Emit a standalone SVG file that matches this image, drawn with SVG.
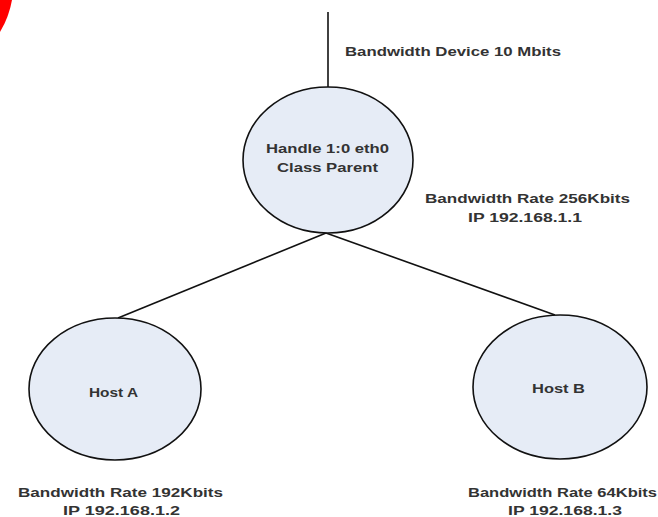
<svg xmlns="http://www.w3.org/2000/svg" width="658" height="517" viewBox="0 0 658 517">
<style>
.n{fill:#e6ecf6;stroke:#111;stroke-width:1.6}
.c{stroke:#111;stroke-width:1.6;fill:none}
text{font-family:"Liberation Sans",Arial,sans-serif;font-size:13px;fill:#333;font-weight:bold}
</style>
<rect width="658" height="517" fill="#fff"/>
<path d="M0,0 L12,0 Q9,17 0,32 Z" fill="#ff0000"/>
<g id="connectors">
<line class="c" x1="328" y1="12" x2="328" y2="88"/>
<line class="c" x1="326" y1="233" x2="118" y2="318"/>
<line class="c" x1="326" y1="233" x2="555" y2="315"/>
</g>
<g id="parent">
<ellipse class="n" cx="328" cy="160" rx="85" ry="73"/>
<text x="266" y="153" textLength="123" lengthAdjust="spacingAndGlyphs">Handle 1:0 eth0</text>
<text x="277" y="172" textLength="101" lengthAdjust="spacingAndGlyphs">Class Parent</text>
</g>
<g id="hostA">
<ellipse class="n" cx="115" cy="389" rx="86" ry="71"/>
<text x="89" y="397" textLength="49" lengthAdjust="spacingAndGlyphs">Host A</text>
</g>
<g id="hostB">
<ellipse class="n" cx="560" cy="387" rx="87" ry="72"/>
<text x="532" y="393" textLength="53" lengthAdjust="spacingAndGlyphs">Host B</text>
</g>
<g id="labels">
<text x="345" y="56" textLength="216" lengthAdjust="spacingAndGlyphs">Bandwidth Device 10 Mbits</text>
<text x="425" y="203" textLength="205" lengthAdjust="spacingAndGlyphs">Bandwidth Rate 256Kbits</text>
<text x="468" y="222" textLength="114" lengthAdjust="spacingAndGlyphs">IP 192.168.1.1</text>
<text x="18" y="497" textLength="205" lengthAdjust="spacingAndGlyphs">Bandwidth Rate 192Kbits</text>
<text x="63" y="515" textLength="117" lengthAdjust="spacingAndGlyphs">IP 192.168.1.2</text>
<text x="468" y="497" textLength="189" lengthAdjust="spacingAndGlyphs">Bandwidth Rate 64Kbits</text>
<text x="508" y="515" textLength="114" lengthAdjust="spacingAndGlyphs">IP 192.168.1.3</text>
</g>
</svg>
